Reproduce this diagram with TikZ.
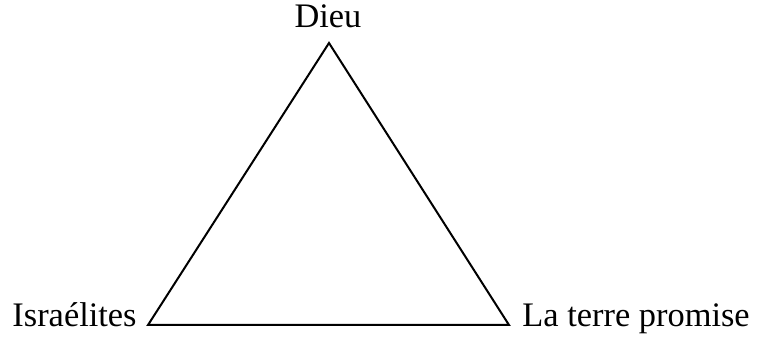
\documentclass[tikz,border=0pt]{standalone}
\usepackage{fontspec}
\setmainfont{Liberation Serif}
\usetikzlibrary{positioning}
\tikzset{
  corner/.style = {coordinate},
  vlabel/.style = {font=\fontsize{17.2}{20}\selectfont, inner sep=0pt},
  side/.style   = {line width=1pt, line join=miter, draw=black}
}

\begin{document}
\begin{tikzpicture}[x=0.5pt, y=-0.5pt]
\useasboundingbox (0,0) rectangle (762,341);
% corners of the triangle
\node[corner] (top)   at (329,43)  {};
\node[corner] (left)  at (148,325) {};
\node[corner] (right) at (509,325) {};
% labels
\node[vlabel, anchor=base]      (dieu)       at (328,28)  {Dieu};
\node[vlabel, anchor=base east] (israelites) at (137,327) {Israélites};
\node[vlabel, anchor=base west] (terre)      at (522,327) {La terre promise};
\draw[side] (top) -- (left) -- (right) -- cycle;
\end{tikzpicture}
\end{document}
